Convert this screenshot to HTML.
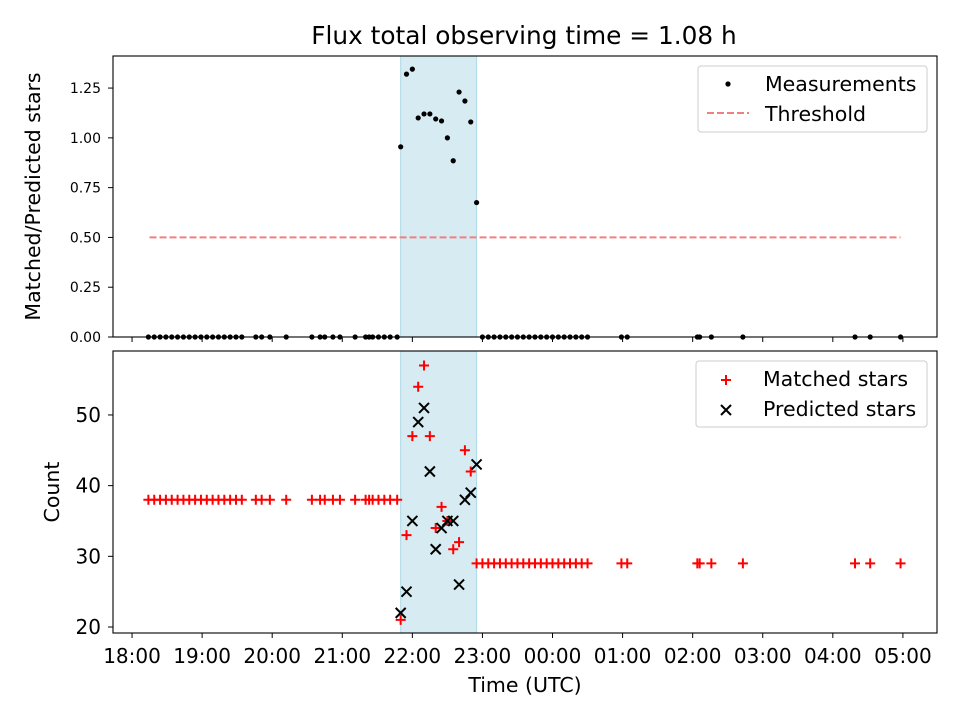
<!DOCTYPE html>
<html><head><meta charset="utf-8"><style>
html,body{margin:0;padding:0;background:#fff;}
svg{display:block;font-family:"DejaVu Sans","Liberation Sans",sans-serif;}
</style></head><body>
<svg id="chart" width="960" height="720" viewBox="0 0 960 720"></svg>
<script>
// Times in minutes after 18:00 UTC
const preTimes = [14,19,24,29,34,39,44,49,54,59,64,69,74,79,84,89,94,106,111,118,132,154,161,165,172,178,191,200,203,206,211,216,221,227];
const winTimes = [230,235,240,245,250,255,260,265,270,275,280,285,290,295];
const postTimes = [300,305,310,315,320,325,330,335,340,345,350,355,360,365,370,375,380,385,390,419,424,484,486,496,523,619,632,658];
const winRatio = [0.955,1.32,1.345,1.10,1.12,1.12,1.095,1.085,1.0,0.885,1.23,1.185,1.08,0.675];
const winMatched = [21,33,47,54,57,47,34,37,35,31,32,45,42,29];
const winPredicted = [22,25,35,49,51,42,31,34,35,35,26,38,39,43];
const preMatched = 38;
const postMatched = 29;
const threshold = 0.5;
const thresholdRange = [15,658];
const windowRange = [230,295];
const xTickLabels = ["18:00","19:00","20:00","21:00","22:00","23:00","00:00","01:00","02:00","03:00","04:00","05:00"];
const topYTicks = [0,0.25,0.5,0.75,1.0,1.25];
const botYTicks = [20,30,40,50];

const NS="http://www.w3.org/2000/svg";
const svg=document.getElementById('chart');
function el(tag,attrs,parent){const e=document.createElementNS(NS,tag);for(const k in attrs)e.setAttribute(k,attrs[k]);(parent||svg).appendChild(e);return e;}
const L=113,R=937,T1=56,B1=337,T2=351,B2=633;
const xmin=-16.3,xmax=689.2;
const X=t=>L+(t-xmin)/(xmax-xmin)*(R-L);
const Y1=v=>B1-(v-0)/(1.411-0)*(B1-T1);
const Y2=v=>B2-(v-19.15)/(59.05-19.15)*(B2-T2);

// title
let t=el('text',{x:524,y:44,'text-anchor':'middle','font-size':24.8});t.textContent='Flux total observing time = 1.08 h';


// windows
[[T1,B1],[T2,B2]].forEach((p,i)=>{
 const r=el('rect',{x:X(windowRange[0]),y:p[0],width:X(windowRange[1])-X(windowRange[0]),height:p[1]-p[0],fill:'#add8e6','fill-opacity':0.5,stroke:'#add8e6','stroke-width':1});
 
 
});

// top: threshold
let th=el('line',{x1:X(thresholdRange[0]),x2:X(thresholdRange[1]),y1:Y1(threshold),y2:Y1(threshold),stroke:'#f08080','stroke-width':2,'stroke-dasharray':'7,3'});

// top: measurements
const allT=[...preTimes,...winTimes,...postTimes];
const allR=[...preTimes.map(()=>0),...winRatio,...postTimes.map(()=>0)];
allT.forEach((tt,i)=>{const c=el('circle',{cx:X(tt),cy:Y1(allR[i]),r:2.6,fill:'#000'});
 });

// bottom
function plus(x,y){const g=el('path',{d:`M${x-5},${y}H${x+5}M${x},${y-5}V${y+5}`,stroke:'#f00','stroke-width':2});
 }
function cross(x,y){const g=el('path',{d:`M${x-5},${y-5}L${x+5},${y+5}M${x-5},${y+5}L${x+5},${y-5}`,stroke:'#000','stroke-width':2});
 }
preTimes.forEach(tt=>plus(X(tt),Y2(preMatched)));
winTimes.forEach((tt,i)=>plus(X(tt),Y2(winMatched[i])));
postTimes.forEach(tt=>plus(X(tt),Y2(postMatched)));
winTimes.forEach((tt,i)=>cross(X(tt),Y2(winPredicted[i])));

// axes frames
[[T1,B1,'top-axes'],[T2,B2,'bottom-axes']].forEach(p=>{const r=el('rect',{x:L,y:p[0],width:R-L,height:p[1]-p[0],fill:'none',stroke:'#000','stroke-width':1.1});
 });

// x ticks
xTickLabels.forEach((lab,i)=>{const x=X(i*60);
 el('line',{x1:x,x2:x,y1:B1,y2:B1+5,stroke:'#000'});
 el('line',{x1:x,x2:x,y1:B2,y2:B2+5,stroke:'#000'});
 const tx=el('text',{x:x,y:663,'text-anchor':'middle','font-size':20});tx.textContent=lab;
 });
topYTicks.forEach(v=>{const y=Y1(v);el('line',{x1:L-5,x2:L,y1:y,y2:y,stroke:'#000'});
 const tx=el('text',{x:101,y:y+5,'text-anchor':'end','font-size':14});tx.textContent=v.toFixed(2);
 });
botYTicks.forEach(v=>{const y=Y2(v);el('line',{x1:L-5,x2:L,y1:y,y2:y,stroke:'#000'});
 const tx=el('text',{x:101,y:y+7,'text-anchor':'end','font-size':20});tx.textContent=v;
 });

// axis titles
let a=el('text',{x:525,y:692,'text-anchor':'middle','font-size':20.5});a.textContent='Time (UTC)';

a=el('text',{x:0,y:0,'text-anchor':'middle','font-size':20.5,transform:`translate(40,${(T1+B1)/2}) rotate(-90)`});a.textContent='Matched/Predicted stars';

a=el('text',{x:0,y:0,'text-anchor':'middle','font-size':20.5,transform:`translate(59,${(T2+B2)/2}) rotate(-90)`});a.textContent='Count';


// legends
let lg=el('rect',{x:698,y:66,width:229,height:66,rx:3,fill:'#fff','fill-opacity':0.8,stroke:'#ccc'});

el('circle',{cx:728,cy:84,r:2.6,fill:'#000'});
el('line',{x1:707,x2:749,y1:113,y2:113,stroke:'#f08080','stroke-width':2,'stroke-dasharray':'7,3'});
a=el('text',{x:765,y:91,'font-size':20.5});a.textContent='Measurements';
a=el('text',{x:765,y:121,'font-size':20.5});a.textContent='Threshold';
lg=el('rect',{x:696,y:361,width:231,height:66,rx:3,fill:'#fff','fill-opacity':0.8,stroke:'#ccc'});

plus(726,380);cross(726,410);
a=el('text',{x:763,y:386,'font-size':20.5});a.textContent='Matched stars';
a=el('text',{x:763,y:416,'font-size':20.5});a.textContent='Predicted stars';
</script>
</body></html>
